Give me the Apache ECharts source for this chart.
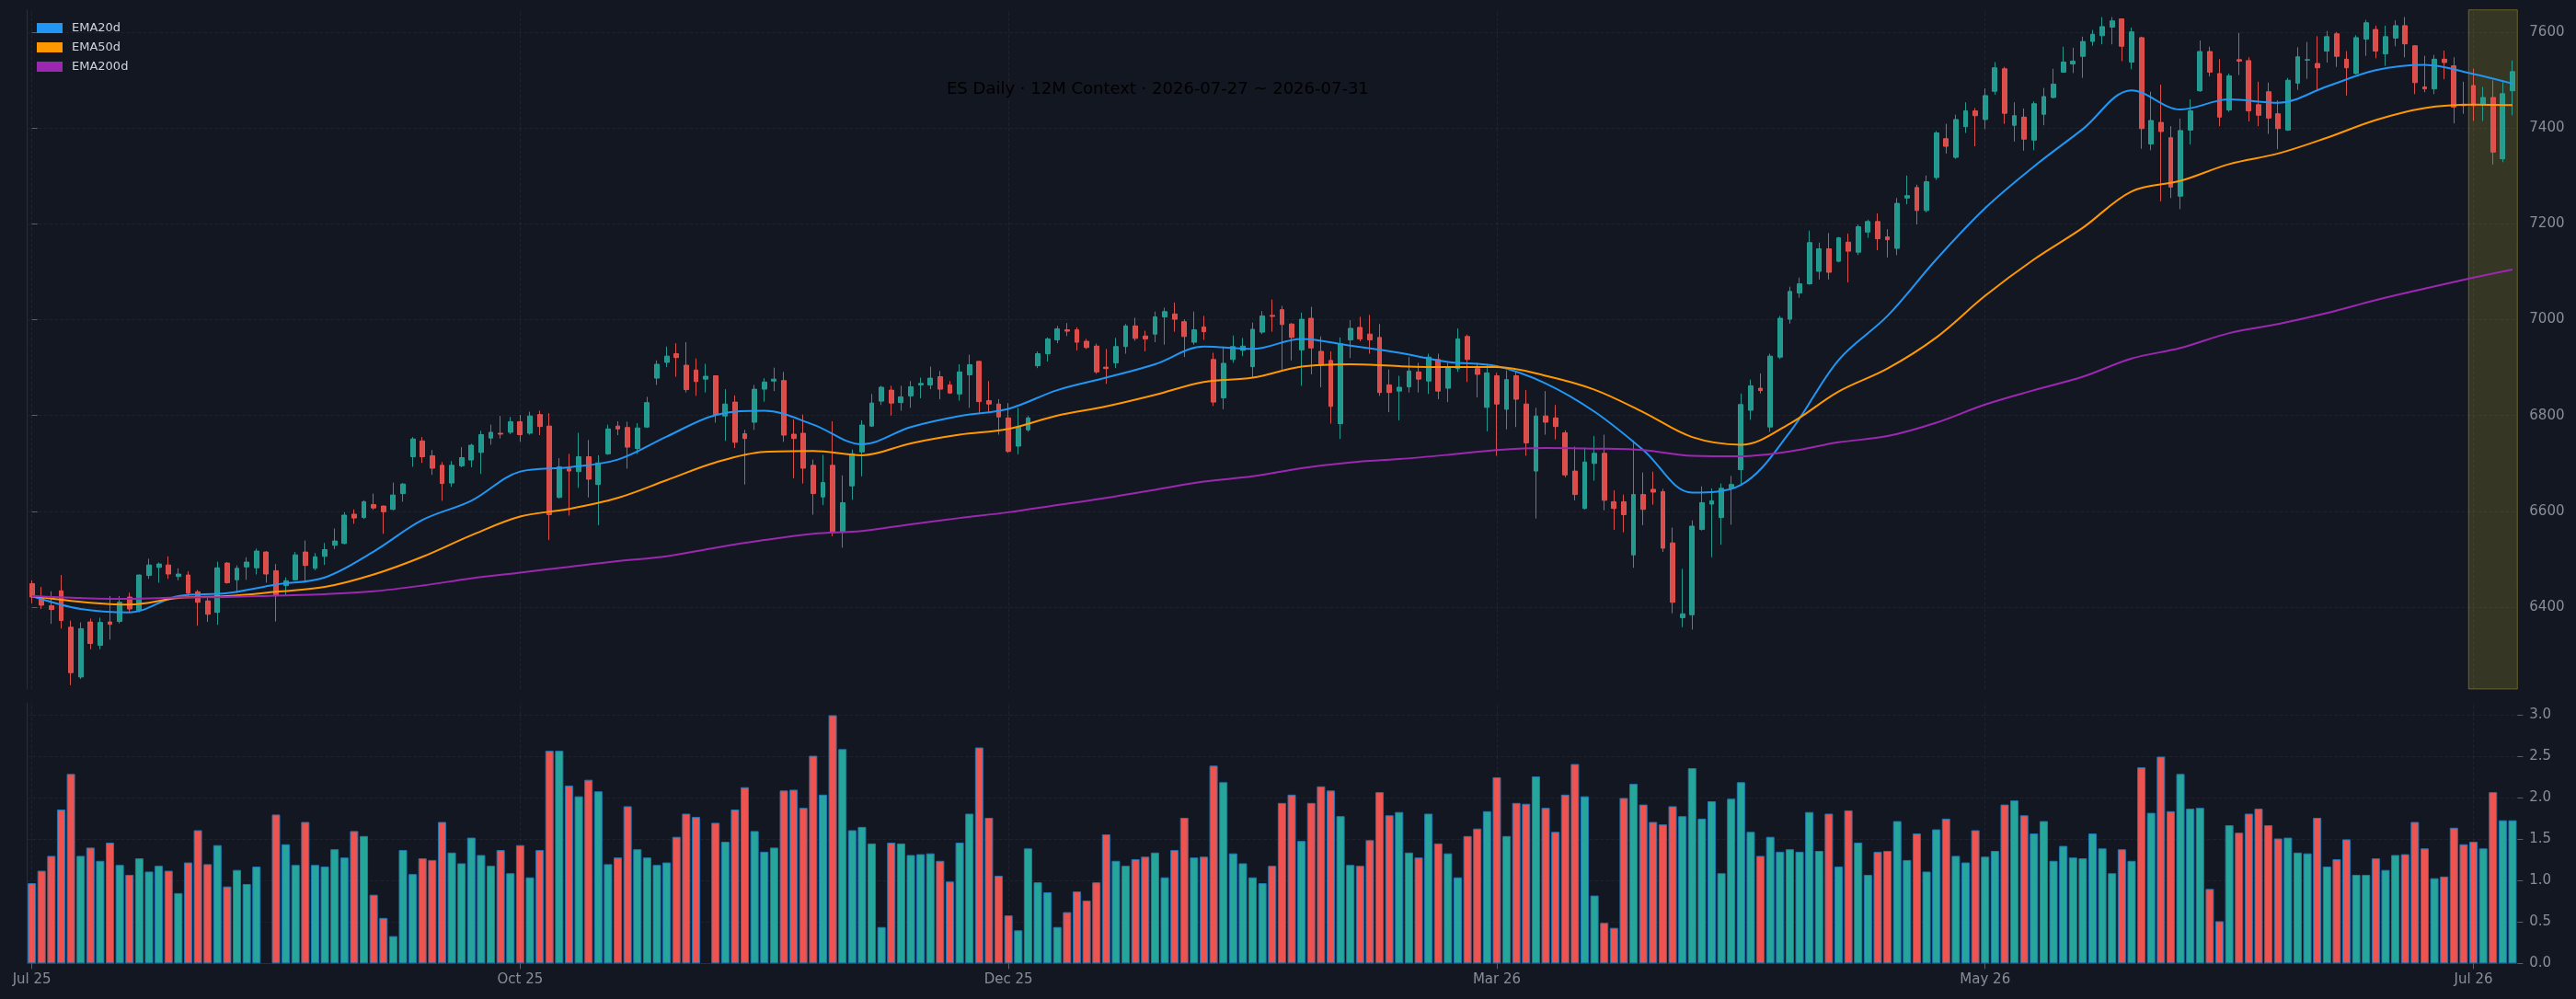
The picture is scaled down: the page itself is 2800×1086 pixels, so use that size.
<!DOCTYPE html>
<html>
<head>
<meta charset="utf-8">
<title>ES Daily - 12M Context</title>
<script src="https://cdn.jsdelivr.net/npm/echarts@6/dist/echarts.min.js"></script>
<style>
html,body{margin:0;padding:0;background:#131722;}
#main{width:2800px;height:1086px;}
</style>
</head>
<body>
<div id="main"></div>
<script>
// 日线 OHLC (读图估值)
var opens = [6449,6421,6403,6434,6358,6254,6369,6320,6369,6370,6421,6393,6466,6483,6488,6464,6467,6432,6413,6389,
6492,6457,6484,6482,6515,6476,6445,6457,6515,6481,6506,6529,6533,6594,6587,6614,6611,6604,6637,6714,
6747,6716,6696,6659,6695,6707,6723,6753,6763,6765,6787,6763,6802,6778,6629,6689,6683,6714,6656,6720,
6778,6775,6731,6776,6878,6911,6929,6905,6895,6876,6883,6799,6828,6762,6786,6855,6872,6873,6761,6763,
6696,6630,6696,6557,6653,6724,6778,6830,6853,6827,6841,6864,6864,6881,6864,6845,6885,6913,6831,6824,
6795,6736,6770,6904,6929,6958,6979,6979,6955,6945,6901,6910,6944,6987,6966,6970,7006,7012,6996,6953,
6985,6917,6837,6917,6936,6902,6974,7009,7021,6991,6937,7003,6934,6915,6783,6958,6984,6970,6963,6864,
6851,6860,6891,6872,6917,6857,6898,6965,6898,6817,6883,6813,6883,6824,6684,6799,6795,6764,6684,6606,
6700,6721,6620,6620,6509,6635,6646,6641,6534,6378,6384,6562,6615,6587,6648,6687,6811,6857,6776,6922,
7001,7056,7075,7101,7148,7122,7162,7141,7183,7205,7173,7149,7254,7276,7228,7297,7378,7339,7403,7436,
7418,7477,7524,7406,7423,7375,7429,7464,7517,7534,7550,7581,7593,7611,7628,7538,7589,7367,7412,7380,
7258,7396,7478,7560,7514,7438,7543,7541,7449,7476,7430,7396,7494,7542,7535,7561,7597,7544,7514,7586,
7606,7555,7588,7614,7572,7486,7482,7544,7530,7450,7489,7449,7464,7336,7478];
var closes = [6421,6404,6395,6372,6263,6355,6324,6368,6364,6410,6396,6467,6488,6490,6469,6469,6429,6410,6385,6482,
6451,6481,6494,6517,6469,6425,6455,6509,6487,6505,6520,6538,6592,6586,6620,6607,6599,6634,6657,6751,
6714,6690,6658,6696,6712,6738,6760,6765,6761,6787,6760,6799,6777,6593,6693,6684,6714,6667,6701,6772,
6772,6734,6774,6827,6907,6924,6921,6854,6871,6882,6802,6824,6744,6752,6855,6870,6876,6759,6752,6690,
6637,6660,6555,6618,6720,6780,6826,6859,6826,6839,6860,6867,6878,6855,6847,6891,6906,6829,6824,6797,
6725,6776,6795,6929,6960,6981,6976,6953,6942,6891,6898,6944,6987,6961,6960,7006,7017,7001,6965,6979,
6975,6828,6909,6944,6945,6980,7008,7007,6990,6963,7001,6941,6905,6819,6950,6982,6960,6958,6848,6848,
6859,6893,6876,6922,6851,6902,6960,6917,6886,6889,6824,6875,6834,6743,6799,6786,6777,6676,6635,6703,
6721,6623,6606,6593,6635,6604,6640,6523,6410,6386,6569,6618,6622,6648,6656,6823,6862,6852,6924,7003,
7059,7075,7161,7148,7099,7171,7143,7194,7205,7169,7167,7243,7259,7228,7288,7390,7362,7418,7436,7426,
7468,7526,7431,7426,7377,7451,7466,7492,7538,7540,7581,7596,7612,7624,7571,7601,7399,7416,7393,7277,
7395,7436,7560,7517,7423,7509,7540,7436,7427,7421,7399,7500,7549,7543,7526,7591,7550,7526,7589,7620,
7561,7591,7614,7576,7495,7482,7544,7537,7444,7447,7447,7464,7350,7472,7518];
var lows = [6408,6396,6365,6355,6237,6250,6312,6312,6332,6366,6389,6389,6459,6451,6459,6456,6421,6361,6369,6363,
6449,6429,6457,6468,6451,6370,6425,6456,6451,6477,6488,6521,6531,6574,6584,6603,6553,6602,6620,6693,
6701,6676,6622,6651,6692,6692,6678,6739,6752,6761,6745,6760,6759,6540,6627,6591,6649,6629,6571,6718,
6759,6689,6720,6774,6864,6901,6881,6848,6841,6848,6785,6747,6732,6656,6770,6829,6851,6745,6669,6658,
6593,6613,6548,6524,6624,6673,6776,6822,6800,6810,6816,6836,6855,6834,6845,6831,6816,6803,6805,6760,
6722,6719,6766,6899,6913,6951,6966,6936,6939,6887,6866,6899,6929,6956,6934,6953,6948,6975,6922,6948,
6958,6820,6813,6910,6924,6879,6970,6975,6896,6915,6862,6886,6859,6783,6751,6920,6955,6929,6841,6807,
6790,6848,6848,6845,6834,6828,6891,6870,6838,6767,6716,6771,6776,6716,6585,6760,6750,6671,6623,6604,
6664,6602,6561,6556,6482,6571,6614,6515,6387,6358,6353,6560,6504,6530,6572,6657,6791,6846,6766,6918,
6992,7046,7073,7084,7084,7120,7078,7135,7171,7145,7130,7135,7241,7199,7224,7292,7347,7336,7390,7362,
7398,7470,7409,7372,7353,7354,7406,7462,7516,7515,7505,7572,7575,7575,7540,7523,7357,7354,7247,7254,
7231,7366,7476,7508,7404,7434,7511,7414,7404,7388,7356,7394,7480,7503,7480,7537,7528,7468,7512,7551,
7546,7530,7571,7548,7471,7475,7471,7502,7410,7430,7415,7415,7324,7329,7427];
var highs = [6456,6442,6433,6467,6372,6368,6376,6378,6423,6423,6430,6468,6501,6493,6506,6481,6475,6436,6423,6495,
6494,6487,6504,6522,6517,6490,6462,6515,6539,6513,6534,6564,6598,6604,6623,6637,6612,6660,6659,6755,
6755,6728,6703,6705,6734,6741,6768,6781,6799,6797,6801,6808,6810,6805,6711,6720,6764,6749,6717,6781,
6788,6787,6784,6839,6915,6944,6951,6953,6919,6908,6884,6855,6842,6770,6864,6878,6900,6891,6792,6802,
6708,6718,6788,6675,6729,6790,6845,6862,6862,6862,6872,6879,6902,6893,6872,6907,6927,6914,6872,6834,
6826,6816,6799,6934,6963,6987,6993,6984,6960,6950,6939,6962,6991,7004,6977,7017,7025,7036,7001,7017,
7008,6931,6944,6967,6962,6994,7018,7042,7029,6993,7015,7027,6965,6934,6963,6999,7006,7010,6991,6896,
6883,6922,6910,6929,6929,6910,6982,6969,6910,6908,6889,6894,6891,6853,6816,6851,6822,6769,6735,6733,
6757,6760,6644,6635,6748,6681,6683,6647,6566,6480,6581,6652,6648,6658,6674,6846,6875,6888,6929,7008,
7069,7088,7186,7161,7181,7173,7180,7199,7209,7222,7189,7254,7301,7282,7301,7394,7409,7428,7454,7442,
7483,7538,7528,7454,7441,7456,7484,7524,7570,7568,7591,7605,7632,7632,7629,7610,7591,7476,7491,7404,
7420,7460,7583,7570,7544,7514,7599,7548,7497,7495,7458,7505,7569,7580,7592,7603,7601,7561,7594,7626,
7614,7614,7625,7632,7573,7551,7553,7562,7548,7497,7524,7486,7500,7496,7541];
// 成交量 (null = 无数据)
var volumes = [0.97,1.12,1.30,1.86,2.29,1.30,1.40,1.24,1.46,1.19,1.07,1.27,1.11,1.18,1.12,0.85,1.22,1.61,1.20,1.43,
0.93,1.13,0.96,1.17,null,1.80,1.44,1.19,1.71,1.19,1.17,1.38,1.28,1.60,1.54,0.83,0.55,0.33,1.37,1.08,
1.27,1.25,1.71,1.34,1.21,1.52,1.31,1.18,1.37,1.09,1.43,1.04,1.37,2.57,2.57,2.15,2.02,2.22,2.08,1.20,
1.28,1.90,1.38,1.28,1.19,1.22,1.53,1.81,1.77,null,1.70,1.47,1.86,2.13,1.60,1.35,1.40,2.09,2.10,1.88,
2.51,2.04,3.00,2.59,1.61,1.65,1.45,0.44,1.46,1.45,1.31,1.32,1.33,1.24,0.99,1.46,1.81,2.61,1.76,1.06,
0.58,0.40,1.39,0.98,0.86,0.44,0.62,0.87,0.76,0.98,1.56,1.24,1.18,1.26,1.29,1.34,1.04,1.37,1.76,1.28,
1.29,2.39,2.19,1.33,1.21,1.04,0.97,1.18,1.94,2.04,1.48,1.94,2.14,2.09,1.78,1.19,1.18,1.49,2.07,1.79,
1.83,1.34,1.28,1.81,1.45,1.33,1.04,1.54,1.63,1.84,2.25,1.54,1.94,1.93,2.26,1.88,1.59,2.04,2.41,2.02,
0.82,0.49,0.43,2.00,2.17,1.92,1.71,1.68,1.90,1.78,2.36,1.75,1.96,1.09,1.99,2.19,1.59,1.30,1.53,1.35,
1.38,1.35,1.83,1.36,1.81,1.17,1.85,1.46,1.07,1.35,1.36,1.72,1.25,1.57,1.11,1.62,1.75,1.30,1.22,1.61,
1.29,1.36,1.92,1.97,1.79,1.57,1.72,1.24,1.42,1.28,1.27,1.57,1.39,1.09,1.38,1.24,2.37,1.82,2.50,1.84,
2.29,1.87,1.88,0.90,0.51,1.67,1.58,1.81,1.87,1.67,1.51,1.52,1.34,1.33,1.76,1.17,1.26,1.50,1.07,1.07,
1.27,1.13,1.31,1.32,1.71,1.39,1.03,1.05,1.64,1.44,1.47,1.39,2.07,1.73,1.73];

// 均线 (每5根读一次)
var emaIdx = [0,5,10,15,20,25,30,35,40,45,50,55,60,65,70,75,80,85,90,95,100,105,110,115,120,125,
130,135,140,145,150,155,160,165,170,175,180,185,190,195,200,205,210,215,220,225,230,235,240,245,250,254];
var ema20 = [6423,6396,6389,6423,6429,6447,6462,6516,6582,6622,6683,6692,6708,6756,6801,6810,6781,6740,6776,6799,6814,6853,6879,6907,6944,6939,
6960,6946,6931,6912,6903,6867,6808,6728,6639,6655,6765,6916,7008,7126,7233,7320,7398,7479,7439,7460,7453,7487,7521,7532,7513,7493];
var ema50 = [6423,6411,6405,6419,6423,6432,6442,6468,6505,6550,6589,6605,6628,6665,6702,6724,6726,6717,6742,6760,6772,6800,6819,6843,6870,6879,
6902,6907,6903,6901,6901,6883,6854,6807,6755,6739,6783,6850,6898,6963,7050,7126,7192,7268,7290,7325,7347,7380,7417,7442,7449,7448];
var ema200 = [6423,6419,6417,6420,6421,6424,6427,6433,6445,6460,6472,6484,6496,6506,6524,6540,6553,6559,6573,6586,6598,6613,6628,6645,6662,6673,
6690,6702,6709,6718,6728,6732,6731,6728,6716,6715,6725,6744,6757,6785,6823,6853,6881,6919,6941,6972,6991,7014,7041,7065,7088,7105];

// 坐标轴刻度
var monthTicks = ['Jul 25','Oct 25','Dec 25','Mar 26','May 26','Jul 26'];
var tickEvery = 50;
var priceTicks = [6400,6600,6800,7000,7200,7400,7600];
var volTicks = [0,0.5,1,1.5,2,2.5,3];
var weekStart = 250, weekEnd = 254;

var upColor = '#26a69a', downColor = '#ef5350';
var gridColor = 'rgba(255,255,255,0.05)';
var labelColor = '#8a8d96';

var days = opens.map(function(v, i){ return String(i); });
var candles = opens.map(function(o, i){ return [o, closes[i], lows[i], highs[i]]; });
var volData = volumes.map(function(v, i){
    return {value: v, itemStyle: {color: closes[i] >= opens[i] ? upColor : downColor}};
});
function emaPairs(arr){
    return emaIdx.map(function(x, k){ return [x, arr[k]]; });
}
var vLines = monthTicks.map(function(m, k){ return {xAxis: k * tickEvery}; });
function isTick(i){ return i % tickEvery === 0; }

var chart = echarts.init(document.getElementById('main'), null, {renderer: 'canvas'});
chart.setOption({
    backgroundColor: '#131722',
    animation: false,
    textStyle: {fontFamily: 'DejaVu Sans'},
    title: {
        text: 'ES Daily · 12M Context · 2026-07-27 ~ 2026-07-31',
        left: 1029, top: 88, padding: 0,
        textStyle: {color: '#000000', fontSize: 18, fontWeight: 'normal', fontFamily: 'DejaVu Sans'}
    },
    legend: {
        orient: 'vertical', left: 40, top: 24,
        itemWidth: 28, itemHeight: 11, itemGap: 8, padding: 0,
        data: [{name: 'EMA20d', icon: 'rect'}, {name: 'EMA50d', icon: 'rect'}, {name: 'EMA200d', icon: 'rect'}],
        textStyle: {color: '#d1d4dc', fontSize: 13, padding: [0, 0, 0, 5]},
        selectedMode: false
    },
    grid: [
        {left: 29.3, right: 63.7, top: 10.7, bottom: 337},
        {left: 29.3, right: 63.7, top: 764, bottom: 38.7}
    ],
    xAxis: [
        {type: 'category', gridIndex: 0, data: days, boundaryGap: true,
         axisLine: {show: false}, axisTick: {show: false}, axisLabel: {show: false}, splitLine: {show: false}},
        {type: 'category', gridIndex: 1, data: days, boundaryGap: true,
         axisLine: {show: true, lineStyle: {color: '#2a2e39'}},
         axisTick: {show: true, alignWithLabel: true, interval: isTick, length: 6, lineStyle: {color: '#5d606b'}},
         axisLabel: {interval: isTick, color: labelColor, fontSize: 15, margin: 10,
                     formatter: function(v, i){ return monthTicks[i / tickEvery]; }},
         splitLine: {show: false}},
        // 高亮区用的数值轴 (按K线边界对齐)
        {type: 'value', gridIndex: 0, min: -0.5, max: opens.length - 0.5, show: false}
    ],
    yAxis: [
        {type: 'value', gridIndex: 0, position: 'right', min: 6229, max: 7647,
         axisLine: {show: false},
         axisTick: {show: true, length: 6, customValues: priceTicks, lineStyle: {color: '#5d606b'}},
         axisLabel: {customValues: priceTicks, color: labelColor, fontSize: 15, margin: 13,
                     formatter: function(v){ return String(v); }},
         splitLine: {show: true, lineStyle: {color: gridColor, type: 'dashed'}}},
        {type: 'value', gridIndex: 1, position: 'right', min: 0, max: 3.15,
         axisLine: {show: false},
         axisTick: {show: true, length: 6, customValues: volTicks, lineStyle: {color: '#5d606b'}},
         axisLabel: {customValues: volTicks, color: labelColor, fontSize: 15, margin: 13,
                     formatter: function(v){ return v.toFixed(1); }},
         splitLine: {show: true, lineStyle: {color: gridColor, type: 'dashed'}}},
        // 左边框
        {type: 'value', gridIndex: 0, position: 'left', min: 0, max: 1,
         axisLine: {show: true, lineStyle: {color: '#2a2e39'}}, axisTick: {show: false},
         axisLabel: {show: false}, splitLine: {show: false}},
        {type: 'value', gridIndex: 1, position: 'left', min: 0, max: 1,
         axisLine: {show: true, lineStyle: {color: '#2a2e39'}}, axisTick: {show: false},
         axisLabel: {show: false}, splitLine: {show: false}}
    ],
    series: [
        {
            name: 'week', type: 'line', xAxisIndex: 2, yAxisIndex: 0, data: [], silent: true,
            markArea: {
                silent: true,
                itemStyle: {color: 'rgba(255,235,59,0.15)', borderColor: 'rgba(255,235,59,0.3)', borderWidth: 1},
                data: [[{xAxis: weekStart - 0.5}, {xAxis: weekEnd + 0.5}]]
            }
        },
        {
            name: 'ES', type: 'candlestick', xAxisIndex: 0, yAxisIndex: 0,
            data: candles, barWidth: '50%',
            itemStyle: {color: upColor, color0: downColor, borderColor: upColor, borderColor0: downColor,
                        borderWidth: 1, opacity: 0.9},
            markLine: {
                silent: true, symbol: ['none', 'none'], label: {show: false},
                lineStyle: {color: gridColor, type: 'dashed', width: 1},
                data: vLines
            }
        },
        {name: 'EMA20d', type: 'line', xAxisIndex: 0, yAxisIndex: 0, data: emaPairs(ema20),
         showSymbol: false, smooth: 0.35, color: '#2196f3', lineStyle: {width: 2}},
        {name: 'EMA50d', type: 'line', xAxisIndex: 0, yAxisIndex: 0, data: emaPairs(ema50),
         showSymbol: false, smooth: 0.35, color: '#ff9800', lineStyle: {width: 2}},
        {name: 'EMA200d', type: 'line', xAxisIndex: 0, yAxisIndex: 0, data: emaPairs(ema200),
         showSymbol: false, smooth: 0.35, color: '#9c27b0', lineStyle: {width: 2}},
        {
            name: 'Volume', type: 'bar', xAxisIndex: 1, yAxisIndex: 1,
            data: volData, barWidth: '85%',
            itemStyle: {borderColor: '#1f77b4', borderWidth: 1},
            markLine: {
                silent: true, symbol: ['none', 'none'], label: {show: false},
                lineStyle: {color: gridColor, type: 'dashed', width: 1},
                data: vLines
            }
        }
    ]
});
</script>
</body>
</html>
